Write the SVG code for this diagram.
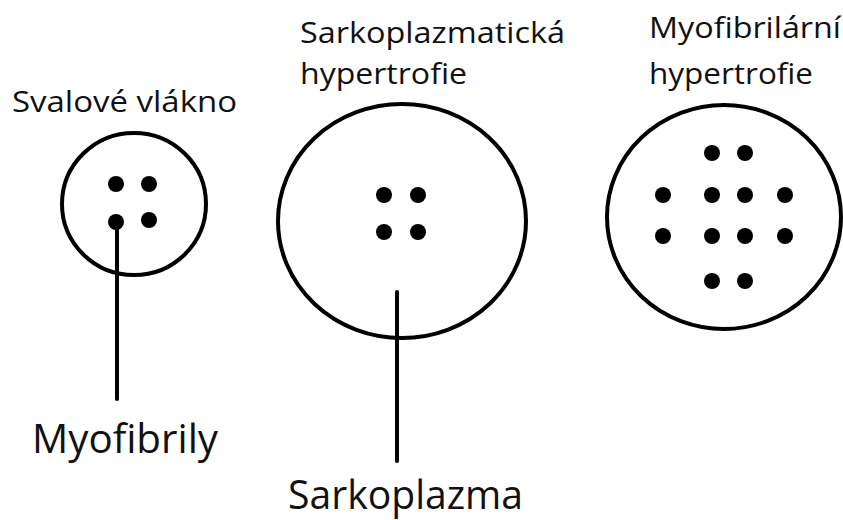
<svg xmlns="http://www.w3.org/2000/svg" width="843" height="520" viewBox="0 0 843 520">
<style>
.ring{fill:none;stroke:#000;stroke-width:4}
.dot{fill:#000}
.lbl{font-family:"Open Sans","Noto Sans",sans-serif;fill:#111}
.t{font-size:29px}
.b{font-size:40px}
.con{stroke:#000;stroke-width:4;stroke-linecap:round;fill:none}
</style>
<rect width="843" height="520" fill="#fff"/>
<g id="node-svalove">
<ellipse class="ring" cx="134" cy="204" rx="72" ry="71"/>
<circle class="dot" cx="116" cy="184" r="8"/>
<circle class="dot" cx="149" cy="184" r="8"/>
<circle class="dot" cx="116" cy="222" r="8"/>
<circle class="dot" cx="149" cy="220" r="8"/>
<text class="lbl t" x="12" y="112" textLength="225" lengthAdjust="spacingAndGlyphs">Svalové vlákno</text>
</g>
<g id="node-sarko">
<ellipse class="ring" cx="402" cy="221" rx="124" ry="117"/>
<circle class="dot" cx="384" cy="195" r="8"/>
<circle class="dot" cx="418" cy="195" r="8"/>
<circle class="dot" cx="384" cy="232" r="8"/>
<circle class="dot" cx="418" cy="232" r="8"/>
<text class="lbl t" x="300" y="43" textLength="265" lengthAdjust="spacingAndGlyphs">Sarkoplazmatická</text>
<text class="lbl t" x="300" y="84" textLength="167" lengthAdjust="spacingAndGlyphs">hypertrofie</text>
</g>
<g id="node-myofib">
<ellipse class="ring" cx="724" cy="217" rx="117" ry="112"/>
<circle class="dot" cx="712" cy="153" r="8"/>
<circle class="dot" cx="745" cy="153" r="8"/>
<circle class="dot" cx="663" cy="195" r="8"/>
<circle class="dot" cx="712" cy="195" r="8"/>
<circle class="dot" cx="745" cy="195" r="8"/>
<circle class="dot" cx="785" cy="195" r="8"/>
<circle class="dot" cx="663" cy="236" r="8"/>
<circle class="dot" cx="712" cy="236" r="8"/>
<circle class="dot" cx="745" cy="236" r="8"/>
<circle class="dot" cx="785" cy="236" r="8"/>
<circle class="dot" cx="712" cy="281" r="8"/>
<circle class="dot" cx="745" cy="281" r="8"/>
<text class="lbl t" x="649" y="38" textLength="192" lengthAdjust="spacingAndGlyphs">Myofibrilární</text>
<text class="lbl t" x="649" y="84" textLength="164" lengthAdjust="spacingAndGlyphs">hypertrofie</text>
</g>
<g id="node-myofibrily">
<text class="lbl b" x="32" y="453" textLength="186" lengthAdjust="spacingAndGlyphs">Myofibrily</text>
</g>
<g id="node-sarkoplazma">
<text class="lbl b" x="288" y="509" textLength="235" lengthAdjust="spacingAndGlyphs">Sarkoplazma</text>
</g>
<g id="connectors">
<line class="con" x1="117" y1="222" x2="117" y2="399"/>
<line class="con" x1="397" y1="292" x2="397" y2="461"/>
</g>
</svg>
